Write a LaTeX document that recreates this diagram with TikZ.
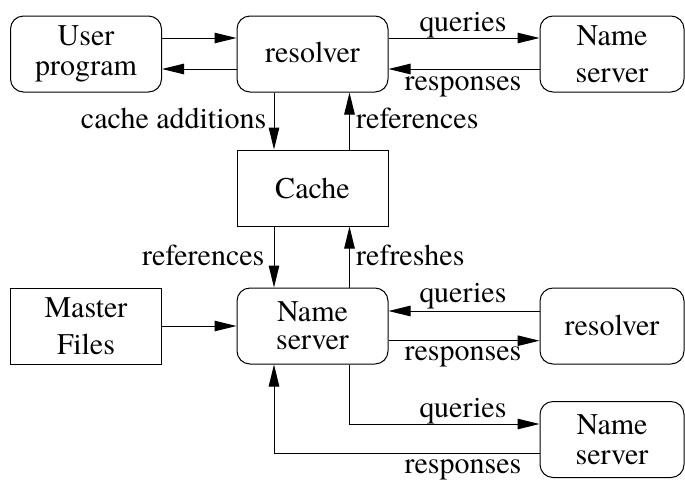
\documentclass[tikz,border=0pt]{standalone}
\usepackage{fontspec}
\setmainfont{texgyretermes-regular.otf}
\usetikzlibrary{arrows.meta}
\begin{document}
\begin{tikzpicture}[x=1pt,y=-1pt,
  every node/.style={font=\fontsize{30}{30}\selectfont, inner sep=0pt},
  rbox/.style={draw, line width=1pt, rounded corners=13pt, minimum width=151pt, minimum height=76pt, align=center},
  sbox/.style={draw, line width=1pt, minimum width=151pt, minimum height=76pt, align=center},
  rboxs/.style={rbox, minimum width=144pt},
  arr/.style={line width=1pt, -{Triangle[length=22pt,width=10.5pt]}},
  lbl/.style={anchor=base}
]
\useasboundingbox (0,0) rectangle (685,483);
% boxes
\node[rbox] (user) at (86,54) {User\\program};
\node[rbox] (res1) at (312.5,54) {\raisebox{2.5pt}{resolver}};
\node[rboxs] (ns1) at (612,54) {Name\\[7pt]server};
\node[sbox] (cache) at (312.5,188) {Cache};
\node[sbox] (master) at (86,326) {Master\\[7pt]Files};
\node[rbox] (ns2) at (312.5,326) {Name\\[-2pt]server};
\node[rboxs] (res2) at (612,326) {\raisebox{2.5pt}{resolver}};
\node[rboxs] (ns3) at (612,439.5) {Name\\server};
% top row
\draw[arr] ([yshift=16pt]user.east) -- ([yshift=16pt]res1.west);
\draw[arr] ([yshift=-15pt]res1.west) -- ([yshift=-15pt]user.east);
\draw[arr] ([yshift=16pt]res1.east) -- ([yshift=16pt]ns1.west);
\draw[arr] ([yshift=-15pt]ns1.west) -- ([yshift=-15pt]res1.east);
\node[lbl] (lq1) at (463,31) {queries};
\node[lbl] (lr1) at (463,90.5) {responses};
% resolver <-> cache
\draw[arr] ([xshift=-38.5pt]res1.south) -- ([xshift=-38.5pt]cache.north);
\draw[arr] ([xshift=37pt]cache.north) -- ([xshift=37pt]res1.south);
\node[anchor=base east] (lca) at (266.5,128) {cache additions};
\node[anchor=base west] (lref1) at (356,128) {references};
% cache <-> ns2
\draw[arr] ([xshift=-38.5pt]cache.south) -- ([xshift=-38.5pt]ns2.north);
\draw[arr] ([xshift=37pt]ns2.north) -- ([xshift=37pt]cache.south);
\node[anchor=base east] (lref2) at (264.5,265) {references};
\node[anchor=base west] (lrefr) at (356,265) {refreshes};
% master -> ns2
\draw[arr] (master.east) -- (ns2.west);
% ns2 <-> res2
\draw[arr] ([yshift=15pt]res2.west) -- ([yshift=15pt]ns2.east);
\draw[arr] ([yshift=-14.7pt]ns2.east) -- ([yshift=-14.7pt]res2.west);
\node[lbl] (lq2) at (463,302) {queries};
\node[lbl] (lr2) at (463,360) {responses};
% ns2 <-> ns3
\draw[arr] ([xshift=37pt]ns2.south) |- ([yshift=15.5pt]ns3.west);
\draw[arr] ([yshift=-13.5pt]ns3.west) -| ([xshift=-38.5pt]ns2.south);
\node[lbl] (lq3) at (463,417) {queries};
\node[lbl] (lr3) at (463,473) {responses};
\end{tikzpicture}
\end{document}
